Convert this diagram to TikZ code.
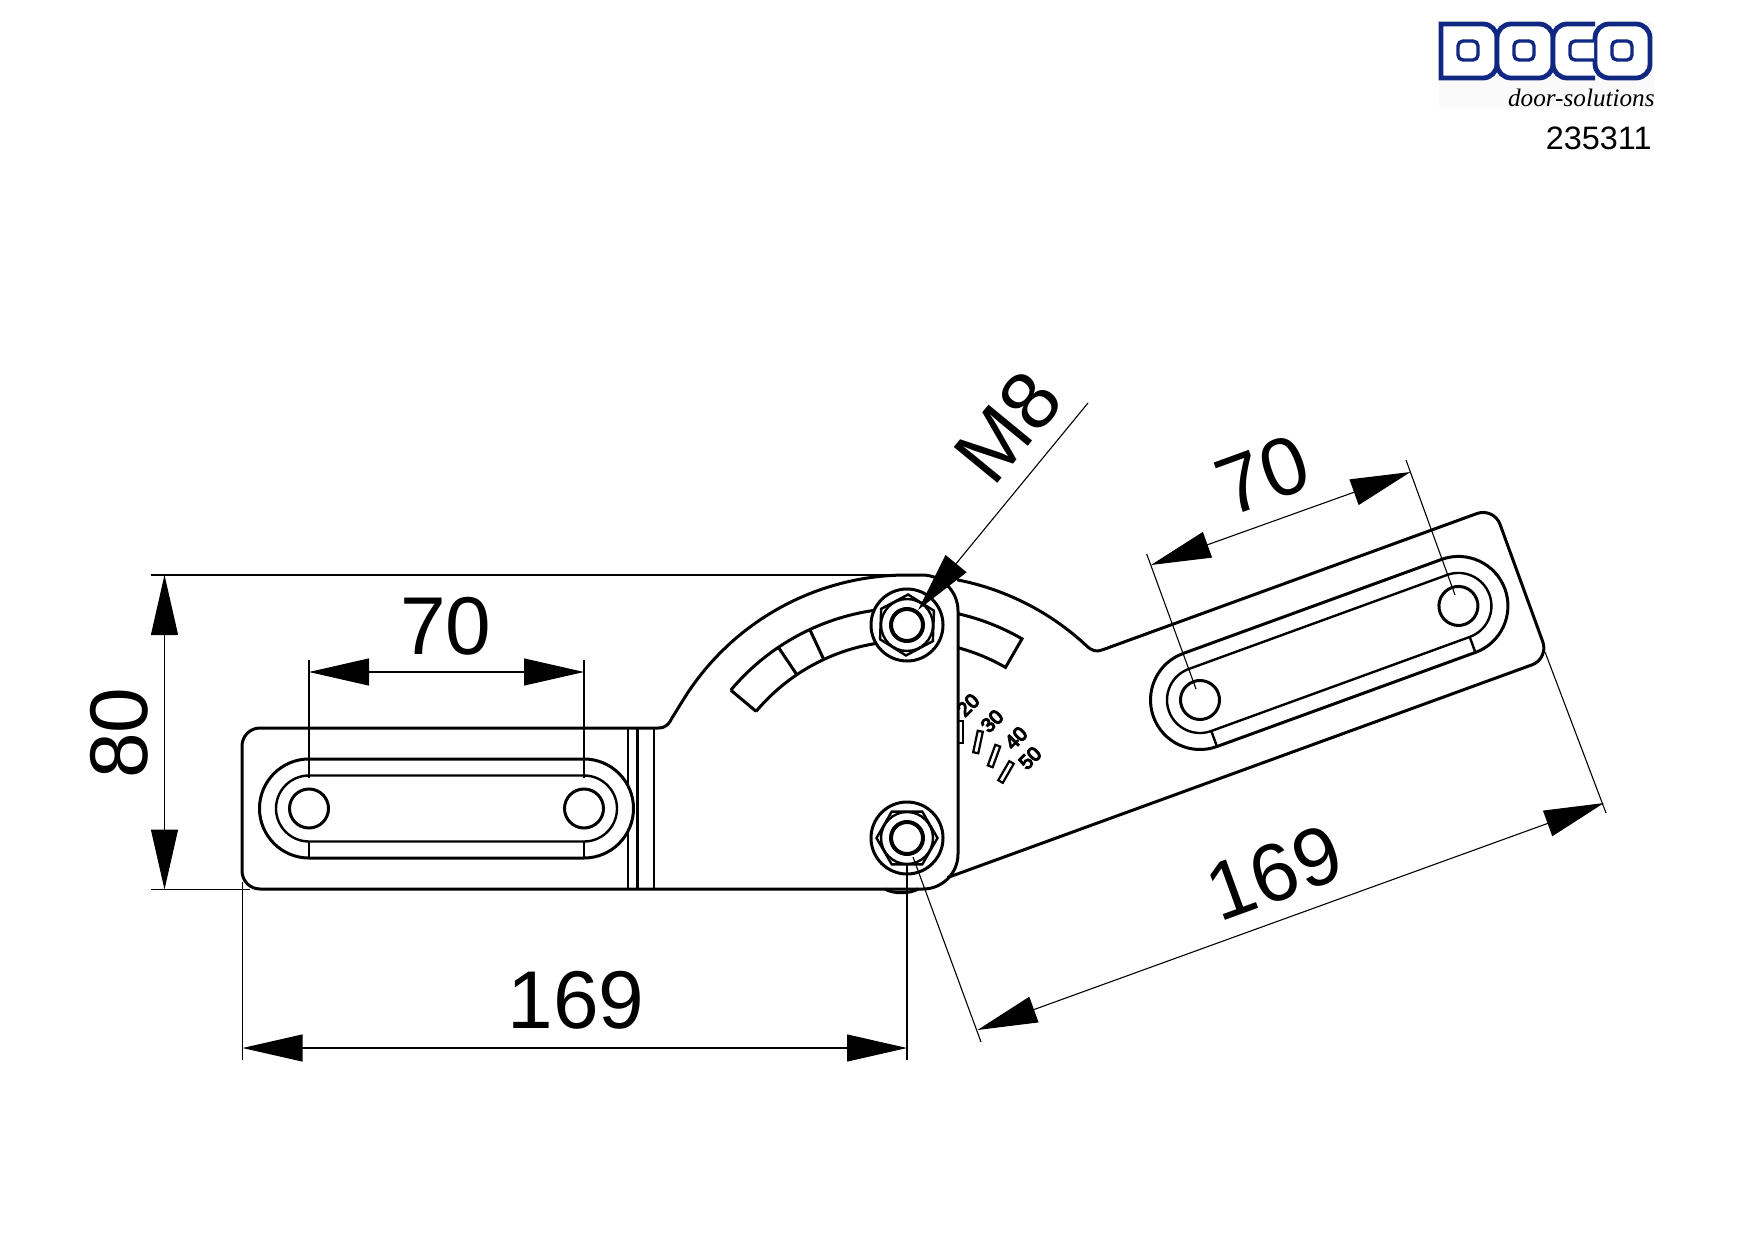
\documentclass[tikz,border=0pt]{standalone}
\usepackage{fontspec}
\setmainfont{Liberation Sans}
\newfontfamily\logofont[ItalicFont=Liberation Serif Italic]{Liberation Serif}
\newfontfamily\scalefont[FakeBold=6]{Liberation Sans}
\usetikzlibrary{calc,arrows.meta}
\definecolor{logoblue}{RGB}{16,40,130}
\tikzset{
  part/.style={line width=1.5pt},
  thin line/.style={line width=0.55pt},
  dim/.style={thin line,{Triangle[length=30pt,width=13.5pt]}-{Triangle[length=30pt,width=13.5pt]}},
  dimtext/.style={inner sep=0pt,font=\fontsize{41}{41}\selectfont},
  scaletick/.style={draw,line width=1.1pt,inner sep=0pt,minimum width=2.6pt,minimum height=11pt},
  scaletext/.style={inner sep=0pt,font=\scalefont\fontsize{10}{10}\selectfont,rotate=45},
  logoline/.style={draw=logoblue,line width=2.4pt,fill=white}
}
% slot with its hole pair, drawn in the local frame of a plate
\newcommand{\slotpair}{
  \draw[part,fill=white] (0,-49.5) -- (275,-49.5) arc[start angle=270,end angle=450,radius=49.5]
    -- (0,49.5) arc[start angle=90,end angle=270,radius=49.5] -- cycle;
  \draw[part,line width=1.2pt] (0,-33) -- (275,-33) arc[start angle=270,end angle=450,radius=33]
    -- (0,33) arc[start angle=90,end angle=270,radius=33] -- cycle;
  \draw[part] (0,0) circle (19.5);
  \draw[part] (275,0) circle (19.5);
  \draw[part,line width=1.2pt] (0,33) -- (0,49.5);
  \draw[part,line width=1.2pt] (275,33) -- (275,49.5);
}
\begin{document}
\begin{tikzpicture}[x=0.5pt,y=-0.5pt]
  \useasboundingbox (0,0) rectangle (1754,1240);
  \coordinate (boltB) at (907,838);
  \coordinate (boltA) at (907,625);
  %logo
  \fill[black!2] (1439,22) rectangle (1654,108);
  \draw[logoline] (1441,78) -- (1441,24) [rounded corners=7pt] -- (1497,24) -- (1497,78) [sharp corners] -- (1441,78) -- cycle;
  \draw[logoline,rounded corners=7pt] (1497,24) rectangle (1553,78);
  \draw[logoline,rounded corners=7pt] (1595,24) -- (1553,24) -- (1553,78) -- (1595,78);
  \draw[logoline,rounded corners=7pt] (1595,24) rectangle (1650,78);
  \draw[logoline,line width=1.7pt,rounded corners=2.5pt] (1458,41) rectangle (1478,60);
  \draw[logoline,line width=1.7pt,rounded corners=2.5pt] (1514,41) rectangle (1534,60);
  \draw[logoline,line width=1.7pt,rounded corners=2.5pt] (1594,41) -- (1570,41) -- (1570,60) -- (1594,60);
  \draw[logoline,line width=1.7pt,rounded corners=2.5pt] (1612,41) rectangle (1632,60);
  \node[inner sep=0pt,anchor=base east] (logotext) at (1655,107) {\logofont\itshape\fontsize{12.6}{13}\selectfont door-solutions};
  \node[inner sep=0pt,anchor=base east] (partno) at (1652,150) {\fontsize{16.2}{16}\selectfont 235311};
  %arm on the right
  \begin{scope}[shift={(1200,700)},rotate=20]
    \coordinate (armtop) at (-75,-80.5);
    \coordinate (armlow) at (-298,80.5);
    \draw[part] (armtop) -- (324,-80.5) arc[start angle=270,end angle=360,radius=18]
      -- (342,62.5) arc[start angle=0,end angle=90,radius=18] -- (armlow);
    \slotpair
  \end{scope}
  \draw[part] ($(boltB)+(281:263)$) arc[start angle=281,end angle=313,radius=263]
    .. controls +(43:8) and (1096,652) .. (armtop);
  %scale slot, both parts
  \draw[part] ($(boltB)+(220:230)$) arc[start angle=220,end angle=270,radius=230];
  \draw[part] ($(boltB)+(220:197)$) arc[start angle=220,end angle=270,radius=197];
  \draw[part] ($(boltB)+(220:197)$) -- ($(boltB)+(220:230)$);
  \draw[part] ($(boltB)+(236:197)$) -- ($(boltB)+(236:230)$);
  \draw[part] ($(boltB)+(245:197)$) -- ($(boltB)+(245:230)$);
  \draw[part] ($(boltB)+(283:230)$) arc[start angle=283,end angle=300,radius=230]
    -- ($(boltB)+(300:197)$) arc[start angle=300,end angle=285,radius=197];
  %main plate
  \draw[part] (260,728) -- (658,728) .. controls (666,728) and (669,724) .. (672,718)
    -- ($(boltB)+(212:263)$) arc[start angle=212,end angle=270,radius=263]
    -- (922,575) arc[start angle=270,end angle=360,radius=36]
    -- (958,854) arc[start angle=0,end angle=90,radius=35]
    -- (260,889) arc[start angle=90,end angle=180,radius=18]
    -- (242,746) arc[start angle=180,end angle=270,radius=18] -- cycle;
  \draw[part] (885,889) .. controls (893,894) and (910,894) .. (918,889);
  \draw[thin line,line width=0.9pt] (628,728) -- (628,889);
  \draw[part] (637,728) -- (637,889);
  \draw[thin line,line width=0.9pt] (654,728) -- (654,889);
  \begin{scope}[shift={(309,808.5)}]
    \slotpair
    \draw[part,line width=1.2pt] (0,-33) -- (0,-49.5);
    \draw[part,line width=1.2pt] (275,-33) -- (275,-49.5);
  \end{scope}
  %bolts
  \foreach \bolt/\turn in {boltA/92,boltB/0}{
    \draw[part,fill=white] (\bolt) circle (36);
    \draw[part,line width=1.2pt] (\bolt) circle (26);
    \draw[part,line width=1.2pt] ($(\bolt)+(\turn:30.5)$) -- ($(\bolt)+(\turn+60:30.5)$) -- ($(\bolt)+(\turn+120:30.5)$)
      -- ($(\bolt)+(\turn+180:30.5)$) -- ($(\bolt)+(\turn+240:30.5)$) -- ($(\bolt)+(\turn+300:30.5)$) -- cycle;
    \draw[line width=2pt] (\bolt) circle (16);
  }
  %scale marks
  \foreach \x/\y/\t/\n in {960.7/731.7/0/a,978/742/-12/b,994/756/-20/c,1006/772/-30/d}{
    \node[scaletick,rotate=\t] (tick\n) at (\x,\y) {};
  }
  \node[scaletext] (mark20) at (968,705) {20};
  \node[scaletext] (mark30) at (992,721) {30};
  \node[scaletext] (mark40) at (1016,738) {40};
  \node[scaletext] (mark50) at (1030,758) {50};
  %dimensions, left plate
  \coordinate (topext) at (151,575);
  \coordinate (lowext) at (151,889.5);
  \draw[thin line] (topext) -- (922,575);
  \draw[thin line] (lowext) -- (250,889.5);
  \draw[dim] (164.5,575) -- (164.5,889.5);
  \node[dimtext,rotate=90] (height) at (119,733) {80};
  \draw[thin line] (309,660) -- (309,778);
  \draw[thin line] (584,660) -- (584,778);
  \draw[dim] (309,672) -- (584,672);
  \node[dimtext] (slotleft) at (446,626) {70};
  \draw[thin line] (242.5,882) -- (242.5,1060);
  \draw[thin line] (907,865) -- (907,1060);
  \draw[dim] (242.5,1048) -- (907,1048);
  \node[dimtext] (lenleft) at (576,1000) {169};
  %dimensions, arm
  \draw[thin line] (1146.7,554) -- (1196,689);
  \draw[thin line] (1406,460) -- (1455,595);
  \draw[dim] (1151,565) -- (1410.5,472);
  \node[dimtext,rotate=20] (slotright) at (1262.5,475) {70};
  \draw[thin line] (913,857) -- (981,1042);
  \draw[thin line] (1545,652) -- (1606,813);
  \draw[dim] (977.5,1030) -- (1604,803);
  \node[dimtext,rotate=20] (lenright) at (1274,873) {169};
  %thread callout
  \coordinate (threadend) at (1088,403);
  \coordinate (threadtip) at (918,610);
  \draw[thin line,-{Triangle[length=30pt,width=13.5pt]}] (threadend) -- (threadtip);
  \node[dimtext,rotate=50.6] (thread) at (1008,427) {M8};
\end{tikzpicture}
\end{document}
